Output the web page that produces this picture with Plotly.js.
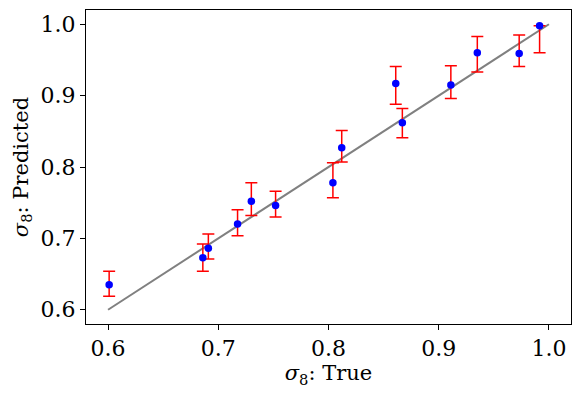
<!DOCTYPE html>
<html>
<head>
<meta charset="utf-8">
<script src="https://cdn.plot.ly/plotly-3.0.1.min.js"></script>
<style>
  html, body { margin: 0; padding: 0; background: #fff; }
  #chart { width: 581px; height: 396px; }
</style>
</head>
<body>
<div id="chart"></div>
<script>
// true vs predicted sigma_8, with asymmetric error bars (lo / hi)
var sigTrue = [0.601, 0.686, 0.691, 0.7175, 0.730, 0.752, 0.804, 0.812, 0.861, 0.867, 0.911, 0.935, 0.973, 0.9915];
var sigPred = [0.635, 0.673, 0.686, 0.720, 0.752, 0.746, 0.778, 0.827, 0.917, 0.862, 0.915, 0.960, 0.959, 0.998];
var errHi   = [0.654, 0.692, 0.706, 0.740, 0.778, 0.766, 0.806, 0.851, 0.941, 0.882, 0.942, 0.983, 0.985, 0.998];
var errLo   = [0.619, 0.654, 0.671, 0.7035, 0.732, 0.730, 0.757, 0.807, 0.888, 0.841, 0.896, 0.933, 0.941, 0.960];
var oneToOne = [0.6, 1.0];

var plus = sigPred.map(function (v, i) { return Math.max(0, errHi[i] - v); });
var minus = sigPred.map(function (v, i) { return Math.max(0, v - errLo[i]); });

var line = {
  x: oneToOne,
  y: oneToOne,
  mode: 'lines',
  type: 'scatter',
  line: { color: 'grey', width: 2 },
  hoverinfo: 'none'
};

var pts = {
  x: sigTrue,
  y: sigPred,
  mode: 'markers',
  type: 'scatter',
  marker: { color: 'blue', size: 7.5 },
  error_y: {
    type: 'data',
    symmetric: false,
    array: plus,
    arrayminus: minus,
    color: 'red',
    thickness: 1.5,
    width: 6
  }
};

var axisStyle = {
  range: [0.58, 1.02],
  tickvals: [0.6, 0.7, 0.8, 0.9, 1.0],
  ticktext: ['0.6', '0.7', '0.8', '0.9', '1.0'],
  ticks: 'outside',
  ticklen: 5,
  tickwidth: 1,
  tickcolor: 'black',
  showgrid: false,
  zeroline: false,
  showline: true,
  mirror: true,
  linecolor: 'black',
  linewidth: 1,
  tickfont: { family: 'DejaVu Serif', size: 22, color: 'black' }
};

var layout = {
  width: 581,
  height: 396,
  showlegend: false,
  paper_bgcolor: 'white',
  plot_bgcolor: 'white',
  margin: { l: 86, r: 10, t: 10, b: 72 },
  font: { family: 'DejaVu Serif', size: 21, color: 'black' },
  xaxis: Object.assign({}, axisStyle, {
    title: { text: '<i>σ</i><sub>8</sub>: True', standoff: 2, font: { family: 'DejaVu Serif', size: 21 } }
  }),
  yaxis: Object.assign({}, axisStyle, {
    title: { text: '<i>σ</i><sub>8</sub>: Predicted', standoff: 6, font: { family: 'DejaVu Serif', size: 21 } }
  })
};

Plotly.newPlot('chart', [line, pts], layout, { displayModeBar: false, staticPlot: true });
</script>
</body>
</html>
